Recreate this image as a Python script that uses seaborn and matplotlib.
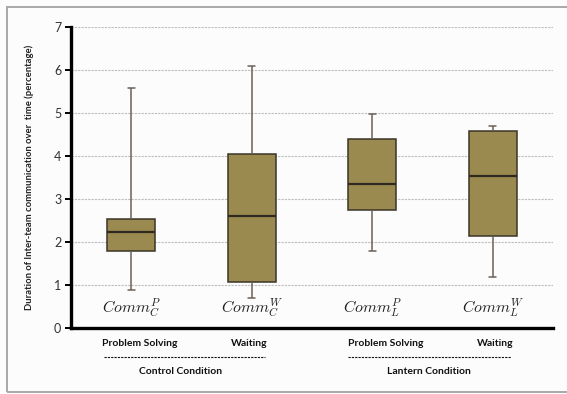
import numpy as np
import pandas as pd
import matplotlib
matplotlib.use("Agg")
import matplotlib.pyplot as plt
import matplotlib.transforms as mtransforms
from matplotlib.patches import Rectangle
from matplotlib.lines import Line2D
import seaborn as sns

# Five-number summaries per group (percentage of time)
groups = ["CommCP", "CommCW", "CommLP", "CommLW"]
group_labels = [r"$Comm_C^P$", r"$Comm_C^W$", r"$Comm_L^P$", r"$Comm_L^W$"]
lows = [0.89, 0.70, 1.79, 1.19]
q1s = [1.79, 1.07, 2.74, 2.14]
medians = [2.24, 2.60, 3.34, 3.54]
q3s = [2.54, 4.04, 4.39, 4.57]
highs = [5.59, 6.09, 4.98, 4.69]
phase_labels = ["Problem Solving", "Waiting", "Problem Solving", "Waiting"]
condition_labels = ["Control Condition", "Lantern Condition"]
y_ticks = [0, 1, 2, 3, 4, 5, 6, 7]

# Long table: with five points the linear quartiles equal the summary values
rows = []
for g, lo, a, m, b, hi in zip(groups, lows, q1s, medians, q3s, highs):
    for v in (lo, a, m, b, hi):
        rows.append({"group": g, "value": v})
df = pd.DataFrame(rows)

sns.set_theme(style="white")
plt.rcParams["font.family"] = ["Lato", "DejaVu Sans"]
plt.rcParams["mathtext.fontset"] = "cm"

bg = "#fcfcfd"
fig = plt.figure(figsize=(5.67, 3.94), dpi=100, facecolor=bg)
ax = fig.add_axes([71 / 567, 1 - 328 / 394, (553 - 71) / 567, (328 - 27) / 394])
ax.set_facecolor(bg)

whisk = "#6b6058"
sns.boxplot(
    data=df, x="group", y="value", order=groups, ax=ax,
    whis=(0, 100), width=0.4, color="#9a8a50", saturation=1,
    linecolor="#3a3528", linewidth=1.1, showfliers=False,
    whiskerprops=dict(color=whisk, linewidth=1.1),
    capprops=dict(color=whisk, linewidth=1.1),
    medianprops=dict(color="#2e2a20", linewidth=1.6),
    capwidths=0.06,
)

ax.set_xlim(-0.5, 3.5)
ax.set_ylim(0, 7)
ax.set_yticks(y_ticks)
ax.set_yticklabels([str(t) for t in y_ticks], fontsize=9, color="#333333")
ax.set_xticks([])
ax.set_xlabel("")
ax.set_ylabel("Duration of Inter-team communication over  time (percentage)",
              fontsize=6.8, fontweight="bold", color="#222222", labelpad=14)

# Horizontal dashed grid
for t in y_ticks[1:]:
    ax.axhline(t, color="#bdbdbd", linestyle=(0, (2, 1)), linewidth=0.8, zorder=0)

for side in ("top", "right"):
    ax.spines[side].set_visible(False)
ax.spines["left"].set_linewidth(2.4)
ax.spines["bottom"].set_linewidth(2.4)
ax.spines["left"].set_color("black")
ax.spines["bottom"].set_color("black")
ax.tick_params(axis="y", direction="out", length=4, width=1.4, color="black", pad=3, left=True)

# Group symbols inside the plot
for i, lab in enumerate(group_labels):
    ax.text(i, 0.47, lab, ha="center", va="center", fontsize=11.5, color="#222222")

# Phase and condition captions under the axis
trans = mtransforms.blended_transform_factory(ax.transData, ax.transAxes)
phase_x = [0.07, 0.98, 2.11, 3.02]
for x, lab in zip(phase_x, phase_labels):
    ax.text(x, -0.053, lab, transform=trans, ha="center", va="center",
            fontsize=7.5, fontweight="bold", color="#111111")
for (x0, x1), xc, lab in zip([(-0.23, 1.11), (1.80, 3.15)], [0.41, 2.47], condition_labels):
    ax.add_line(Line2D([x0, x1], [-0.096, -0.096], transform=trans, color="#111111",
                       linestyle=(0, (2, 1)), linewidth=0.8, clip_on=False))
    ax.text(xc, -0.143, lab, transform=trans, ha="center", va="center",
            fontsize=7.5, fontweight="bold", color="#111111")

# Outer frame
fig.patches.append(Rectangle((7 / 567, 1 - 392 / 394), 1.1, (392 - 7) / 394,
                             transform=fig.transFigure, fill=False,
                             edgecolor="#a8a8a8", linewidth=1.4, zorder=-1))

fig.savefig("out.png", dpi=100, facecolor=bg)
